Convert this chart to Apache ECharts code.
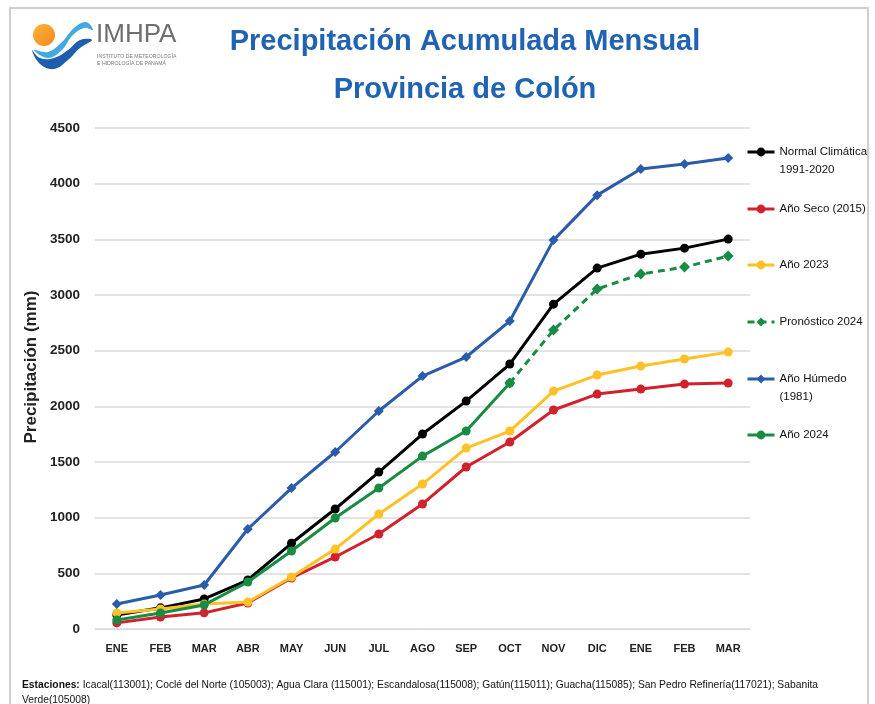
<!DOCTYPE html>
<html>
<head>
<meta charset="utf-8">
<script src="https://cdn.jsdelivr.net/npm/echarts@6/dist/echarts.min.js"></script>
<style>
  html, body { margin: 0; padding: 0; background: #fff; }
  #chart { width: 875px; height: 704px; }
</style>
</head>
<body>
<div id="chart"></div>
<script>
// meses (temporada ENE -> MAR del año siguiente)
const months = ['ENE', 'FEB', 'MAR', 'ABR', 'MAY', 'JUN', 'JUL', 'AGO', 'SEP', 'OCT', 'NOV', 'DIC', 'ENE', 'FEB', 'MAR'];

// precipitación acumulada (mm)
const normal     = [125, 190, 270, 440, 770, 1078, 1410, 1751, 2047, 2380, 2918, 3242, 3367, 3421, 3502];
const anoSeco    = [55, 108, 145, 233, 458, 647, 853, 1123, 1455, 1679, 1967, 2110, 2155, 2200, 2209];
const ano2023    = [144, 180, 224, 242, 467, 718, 1033, 1302, 1625, 1778, 2137, 2281, 2362, 2425, 2487];
const pronostico = [null, null, null, null, null, null, null, null, null, 2209, 2685, 3053, 3188, 3251, 3350];
const anoHumedo  = [224, 305, 395, 898, 1266, 1590, 1958, 2272, 2443, 2766, 3493, 3897, 4131, 4176, 4230];
const ano2024    = [81, 144, 216, 422, 700, 997, 1266, 1553, 1778, 2209, null, null, null, null, null];

const names = ['Normal Climática\n1991-2020', 'Año Seco (2015)', 'Año 2023', 'Pronóstico 2024', 'Año Húmedo\n(1981)', 'Año 2024'];
const colors = ['#000000', '#D0222C', '#FFC125', '#178C42', '#2A5CAA', '#178C42'];

const FONT = 'Liberation Sans, Arial, sans-serif';

const chart = echarts.init(document.getElementById('chart'));

function line(i, data, opts = {}) {
  return Object.assign({
    name: names[i],
    type: 'line',
    data: data,
    symbol: 'circle',
    symbolSize: 9,
    connectNulls: false,
    color: colors[i],
    lineStyle: { width: 3, color: colors[i] },
    itemStyle: { color: colors[i] },
    z: 2 + i
  }, opts);
}

// una leyenda por elemento para controlar su posición;
// en los nombres de dos líneas se añade una línea vacía arriba para que la primera quede junto al icono
const LH = 18;
const legendY = [152, 209, 265, 322, 379, 435];
const legends = names.map((n, i) => {
  const multi = n.includes('\n');
  return {
    data: [n],
    left: 746,
    top: legendY[i] - (multi ? 1.5 * LH : 0.5 * LH),
    padding: 0,
    orient: 'vertical',
    itemWidth: 27,
    itemHeight: 11,
    itemGap: 0,
    lineStyle: { width: 3 },
    formatter: name => (multi ? ' \n' + name : name),
    textStyle: { fontFamily: FONT, fontSize: 11.5, color: '#111', lineHeight: LH },
    selectedMode: false
  };
});

chart.setOption({
  animation: false,
  backgroundColor: '#fff',
  textStyle: { fontFamily: FONT },
  title: {
    text: 'Precipitación Acumulada Mensual\nProvincia de Colón',
    left: 460,
    top: 13,
    textAlign: 'center',
    textStyle: {
      fontFamily: FONT,
      fontSize: 29,
      fontWeight: 'bold',
      color: '#2063B3',
      lineHeight: 48
    }
  },
  legend: legends,
  grid: { left: 95, right: 125, top: 128, bottom: 75 },
  xAxis: {
    type: 'category',
    data: months,
    boundaryGap: true,
    axisLine: { show: true, lineStyle: { color: '#d9d9d9' } },
    axisTick: { show: false },
    axisLabel: { fontSize: 11, fontWeight: 'bold', color: '#222', margin: 14, interval: 0 }
  },
  yAxis: {
    type: 'value',
    min: 0,
    max: 4500,
    interval: 500,
    axisLine: { show: false },
    axisTick: { show: false },
    axisLabel: { fontSize: 13.5, fontWeight: 'bold', color: '#222', margin: 15, formatter: v => String(v) },
    splitLine: { lineStyle: { color: '#d9d9d9', width: 1.5 } }
  },
  series: [
    line(0, normal),
    line(1, anoSeco),
    line(2, ano2023),
    line(3, pronostico, { symbol: 'diamond', symbolSize: 11, lineStyle: { width: 3, type: [7, 5], color: colors[3] } }),
    line(4, anoHumedo, { symbol: 'diamond', symbolSize: 10 }),
    line(5, ano2024)
  ],
  graphic: [
    // marco
    { type: 'rect', shape: { x: 10, y: 8, width: 858, height: 720 }, style: { fill: 'none', stroke: '#cfcfcf', lineWidth: 2 }, silent: true },
    // título del eje Y
    {
      type: 'text', x: 31, y: 367, rotation: Math.PI / 2,
      style: { text: 'Precipitación (mm)', font: 'bold 17px "Liberation Sans", Arial', fill: '#222', align: 'center', verticalAlign: 'middle' }
    },
    // logo IMHPA
    { type: 'circle', shape: { cx: 44, cy: 35, r: 11 }, style: { fill: { type: 'linear', x: 0, y: 0, x2: 1, y2: 1, colorStops: [{ offset: 0, color: '#FFB23A' }, { offset: 1, color: '#F08A1C' }] } } },
    { type: 'polygon', shape: { smooth: 0.4, points: [[34, 50], [48, 52], [62, 42], [74, 28], [86, 22], [93, 30], [84, 28], [72, 36], [62, 50], [48, 58]] }, style: { fill: '#3FA9E0' } },
    { type: 'polygon', shape: { smooth: 0.4, points: [[32, 50], [40, 64], [54, 69], [68, 60], [80, 48], [92, 40], [80, 40], [68, 50], [54, 58], [40, 58]] }, style: { fill: '#1D5FAE' } },
    { type: 'text', left: 96, top: 22, style: { text: 'IMHPA', font: '26px "Liberation Sans", Arial', fill: '#6f6f6f' } },
    { type: 'text', left: 97, top: 53, style: { text: 'INSTITUTO DE METEOROLOGÍA\nE HIDROLOGÍA DE PANAMÁ', font: '5.2px "Liberation Sans", Arial', fill: '#7a7a7a', lineHeight: 7 } },
    // estaciones
    {
      type: 'text', left: 22, top: 678,
      style: {
        text: '{b|Estaciones:} Icacal(113001); Coclé del Norte (105003); Agua Clara (115001); Escandalosa(115008); Gatún(115011); Guacha(115085); San Pedro Refinería(117021); Sabanita\nVerde(105008)',
        rich: { b: { fontWeight: 'bold', fontSize: 10.3, fontFamily: FONT, fill: '#111' } },
        font: '10.3px "Liberation Sans", Arial',
        fill: '#111',
        lineHeight: 15
      }
    }
  ]
});
</script>
</body>
</html>
